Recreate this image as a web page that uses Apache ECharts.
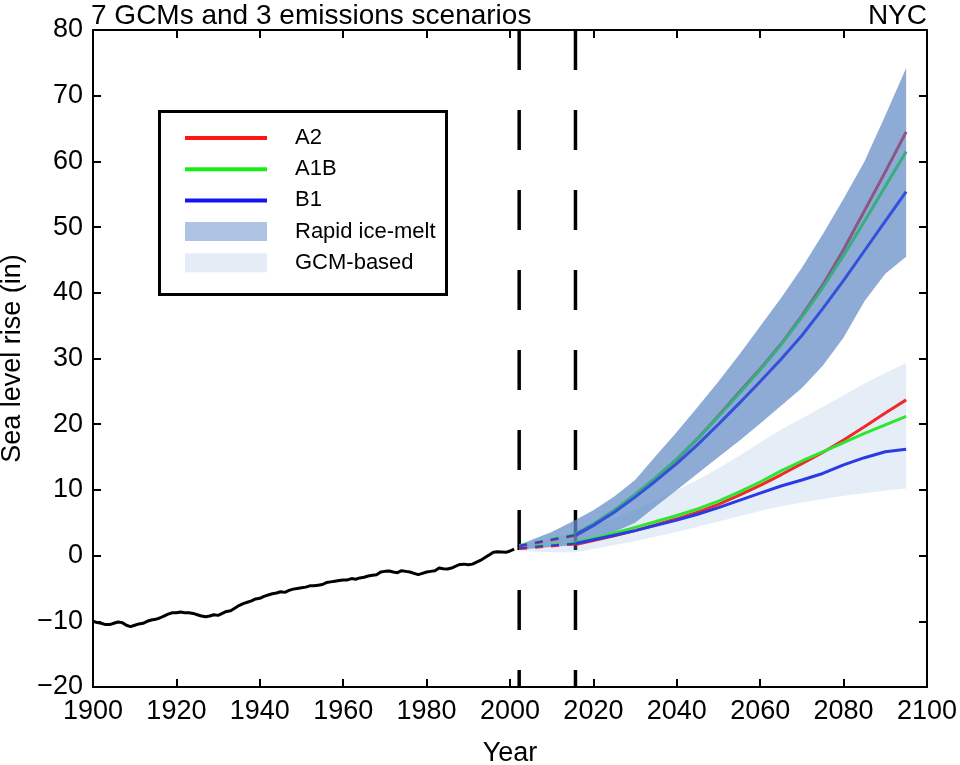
<!DOCTYPE html>
<html><head><meta charset="utf-8">
<script src="https://cdn.jsdelivr.net/npm/echarts@6/dist/echarts.min.js"></script>
<style>html,body{margin:0;padding:0;background:#fff}#c{width:960px;height:765px}</style>
</head><body><div id="c"></div>
<script>
// Observed sea level (in), NYC
const obsYears = [1900,1901,1902,1903,1904,1905,1906,1907,1908,1909,1910,1911,1912,1913,1914,1915,1916,1917,1918,1919,1920,1921,1922,1923,1924,1925,1926,1927,1928,1929,1930,1931,1932,1933,1934,1935,1936,1937,1938,1939,1940,1941,1942,1943,1944,1945,1946,1947,1948,1949,1950,1951,1952,1953,1954,1955,1956,1957,1958,1959,1960,1961,1962,1963,1964,1965,1966,1967,1968,1969,1970,1971,1972,1973,1974,1975,1976,1977,1978,1979,1980,1981,1982,1983,1984,1985,1986,1987,1988,1989,1990,1991,1992,1993,1994,1995,1996,1997,1998,1999,2000,2001];
const obsValues = [-10.0,-10.2,-10.3,-10.5,-10.5,-10.3,-10.1,-10.2,-10.6,-10.8,-10.6,-10.4,-10.3,-10.0,-9.8,-9.7,-9.5,-9.2,-8.9,-8.7,-8.7,-8.6,-8.7,-8.7,-8.8,-9.0,-9.2,-9.3,-9.2,-9.0,-9.1,-8.8,-8.5,-8.4,-8.0,-7.6,-7.3,-7.1,-6.9,-6.6,-6.5,-6.2,-6.0,-5.8,-5.7,-5.5,-5.6,-5.3,-5.1,-5.0,-4.9,-4.8,-4.6,-4.6,-4.5,-4.4,-4.1,-4.0,-3.9,-3.8,-3.7,-3.7,-3.5,-3.6,-3.4,-3.3,-3.1,-3.0,-2.9,-2.5,-2.4,-2.35,-2.5,-2.6,-2.3,-2.4,-2.5,-2.7,-2.9,-2.7,-2.5,-2.4,-2.3,-1.9,-2.0,-2.05,-1.9,-1.6,-1.35,-1.3,-1.4,-1.3,-1.0,-0.7,-0.3,0.1,0.5,0.6,0.55,0.5,0.7,1.0];

// Vertical reference years
const refYears = [2002.2, 2015.7];

// Bridging (dashed) projections 2002 -> 2016
const dashYears = [2002.2, 2015.7];
const dashGcmA2 = [1.0, 1.7];
const dashGcmA1B = [1.3, 2.0];
const dashGcmB1 = [1.15, 1.85];
const dashRapidA2 = [1.4, 3.0];
const dashRapidA1B = [1.6, 3.3];
const dashRapidB1 = [1.5, 3.15];

// Projections
const projYears = [2015.7,2020,2025,2030,2035,2040,2045,2050,2055,2060,2065,2070,2075,2080,2085,2090,2095];
const gcmA2  = [1.7,2.3,3.0,3.8,4.7,5.6,6.6,7.8,9.2,10.7,12.3,14.0,15.7,17.6,19.6,21.7,23.7];
const gcmA1B = [2.0,2.6,3.4,4.3,5.2,6.1,7.1,8.3,9.7,11.2,12.9,14.4,15.8,17.2,18.6,19.9,21.2];
const gcmB1  = [1.85,2.4,3.1,3.8,4.6,5.4,6.3,7.3,8.4,9.5,10.6,11.5,12.5,13.8,14.9,15.8,16.2];
const rapidA2  = [3.0,4.6,6.7,9.1,11.7,14.6,17.8,21.3,24.9,28.4,32.2,36.5,41.2,46.6,52.5,58.4,64.5];
const rapidA1B = [3.3,4.8,6.9,9.3,11.9,14.7,17.8,21.2,24.7,28.3,32.1,36.3,40.8,45.7,50.9,56.2,61.5];
const rapidB1  = [3.15,4.6,6.6,8.9,11.4,14.0,16.9,20.0,23.2,26.5,29.9,33.5,37.6,41.9,46.4,50.9,55.4];

// Ranges
const bandYears = [2002.2,2006,2010,2015.7,2020,2025,2030,2035,2040,2045,2050,2055,2060,2065,2070,2075,2080,2085,2090,2095];
const rapidLower = [0.9,1.1,1.3,1.6,2.4,3.6,5.0,7.5,10.0,12.5,15.0,17.5,20.1,22.8,25.5,28.9,33.2,38.7,42.9,45.5];
const rapidUpper = [1.6,2.6,3.6,5.4,6.9,9.0,11.5,15.2,18.8,22.6,26.5,30.6,34.9,39.2,43.8,48.9,54.3,60.0,67.0,74.2];
const gcmLower = [0.7,0.6,0.5,0.5,1.0,1.6,2.2,2.9,3.6,4.4,5.2,6.0,6.8,7.5,8.1,8.6,9.1,9.5,9.9,10.2];
const gcmUpper = [1.4,2.0,2.6,3.6,4.5,5.7,7.0,8.4,9.9,11.5,13.3,15.2,17.2,19.2,20.9,22.6,24.4,26.2,27.8,29.3];

const xTicks = {min: 1900, max: 2100, interval: 20};
const yTicks = {min: -20, max: 80, interval: 10};

const FONT = 'Liberation Sans, Arial, sans-serif';
const RED = '#f02a2a', GREEN = '#2fe62f', BLUE = '#2a3ae6';

const pairs = (xs, ys) => xs.map((x, i) => [x, ys[i]]);

function lineSeries(name, xs, ys, color, width, z, dashed) {
  return {
    type: 'line', name: name, data: pairs(xs, ys), symbol: 'none', showSymbol: false, silent: true, z: z,
    lineStyle: {color: color, width: width, type: dashed ? [8, 8] : 'solid', cap: 'butt'},
    itemStyle: {color: color}
  };
}
function bandSeries(name, lower, upper, fill, z) {
  return {
    type: 'custom', name: name, silent: true, z: z,
    data: bandYears.map((y, i) => [y, lower[i], upper[i]]),
    encode: {x: 0, y: [1, 2]},
    itemStyle: {color: fill},
    renderItem: function (params, api) {
      if (params.dataIndex !== 0) return null;
      const pts = [];
      for (let i = 0; i < bandYears.length; i++) pts.push(api.coord([bandYears[i], upper[i]]));
      for (let i = bandYears.length - 1; i >= 0; i--) pts.push(api.coord([bandYears[i], lower[i]]));
      return {type: 'polygon', shape: {points: pts}, style: {fill: fill}};
    }
  };
}

const axisCommon = {
  axisLine: {show: true, onZero: false, lineStyle: {color: '#000', width: 2}},
  axisTick: {show: true, inside: true, length: 8, lineStyle: {color: '#000', width: 2}},
  splitLine: {show: false}
};

const series = [];
refYears.forEach(y => series.push({
  type: 'line', name: 'ref', data: [[y, 80], [y, -20]], symbol: 'none', silent: true, z: 1,
  lineStyle: {color: '#000', width: 3.5, type: [40, 40], cap: 'butt'}
}));
series.push(bandSeries('GCM-based', gcmLower, gcmUpper, 'rgba(150,185,225,0.25)', 2));
series.push(bandSeries('Rapid ice-melt', rapidLower, rapidUpper, 'rgba(101,142,199,0.74)', 3));
series.push(lineSeries('A2', projYears, gcmA2, RED, 3, 6));
series.push(lineSeries('A1B', projYears, gcmA1B, GREEN, 3, 6));
series.push(lineSeries('B1', projYears, gcmB1, BLUE, 3, 6));
series.push(lineSeries('A2', projYears, rapidA2, '#8c5685', 3, 5));
series.push(lineSeries('A1B', projYears, rapidA1B, '#38ad80', 3, 5));
series.push(lineSeries('B1', projYears, rapidB1, '#3450dc', 3, 5));
series.push(lineSeries('A2', dashYears, dashGcmA2, RED, 2, 6, true));
series.push(lineSeries('A1B', dashYears, dashGcmA1B, GREEN, 2, 6, true));
series.push(lineSeries('B1', dashYears, dashGcmB1, BLUE, 2, 6, true));
series.push(lineSeries('A2', dashYears, dashRapidA2, RED, 2, 6, true));
series.push(lineSeries('A1B', dashYears, dashRapidA1B, GREEN, 2, 6, true));
series.push(lineSeries('B1', dashYears, dashRapidB1, BLUE, 2, 6, true));
series.push(lineSeries('Observed', obsYears, obsValues, '#000', 3, 7));

const LINE_ICON = 'path://M0,0L82,0L82,4L0,4Z';

const chart = echarts.init(document.getElementById('c'), null, {renderer: 'canvas'});
chart.setOption({
  animation: false,
  backgroundColor: '#fff',
  textStyle: {fontFamily: FONT},
  grid: {left: 93, right: 33, top: 30, bottom: 78, containLabel: false, outerBoundsMode: 'none'},
  title: [
    {text: '7 GCMs and 3 emissions scenarios', left: 91, top: 2, padding: 0,
     textStyle: {fontFamily: FONT, fontSize: 28, fontWeight: 'normal', color: '#000'}},
    {text: 'NYC', right: 33, top: 2, padding: 0,
     textStyle: {fontFamily: FONT, fontSize: 28, fontWeight: 'normal', color: '#000'}}
  ],
  graphic: [{type: 'rect', left: 158, top: 110, shape: {width: 287, height: 183}, z: 50,
    style: {fill: '#fff', stroke: '#000', lineWidth: 3}}],
  legend: {
    show: true, orient: 'vertical', left: 185, top: 127, padding: 0, z: 60,
    itemWidth: 82, itemHeight: 19, itemGap: 9.2, symbolKeepAspect: true,
    textStyle: {fontFamily: FONT, fontSize: 22, color: '#000', padding: [0, 0, 0, 23]},
    selectedMode: false,
    data: [
      {name: 'A2', icon: LINE_ICON, itemStyle: {color: '#ff1414'}},
      {name: 'A1B', icon: LINE_ICON, itemStyle: {color: '#14ee14'}},
      {name: 'B1', icon: LINE_ICON, itemStyle: {color: '#1414ee'}},
      {name: 'Rapid ice-melt', icon: 'rect', itemStyle: {color: '#afc4e3'}},
      {name: 'GCM-based', icon: 'rect', itemStyle: {color: '#e4ecf6'}}
    ]
  },
  xAxis: [
    Object.assign({type: 'value', position: 'bottom', min: xTicks.min, max: xTicks.max, interval: xTicks.interval,
      name: 'Year', nameLocation: 'middle', nameGap: 53,
      nameTextStyle: {fontFamily: FONT, fontSize: 27, color: '#000'},
      axisLabel: {show: true, fontFamily: FONT, fontSize: 27, color: '#000', margin: 11,
        formatter: v => String(v)}}, axisCommon),
    Object.assign({type: 'value', position: 'top', min: xTicks.min, max: xTicks.max, interval: xTicks.interval,
      axisLabel: {show: false}}, axisCommon)
  ],
  yAxis: [
    Object.assign({type: 'value', position: 'left', min: yTicks.min, max: yTicks.max, interval: yTicks.interval,
      name: 'Sea level rise (in)', nameLocation: 'middle', nameGap: 55,
      nameTextStyle: {fontFamily: FONT, fontSize: 27, color: '#000'},
      axisLabel: {show: true, fontFamily: FONT, fontSize: 27, color: '#000', margin: 10,
        formatter: v => String(v).replace('-', '\u2212')}}, axisCommon),
    Object.assign({type: 'value', position: 'right', min: yTicks.min, max: yTicks.max, interval: yTicks.interval,
      axisLabel: {show: false}}, axisCommon)
  ],
  series: series
});
</script>
</body></html>
